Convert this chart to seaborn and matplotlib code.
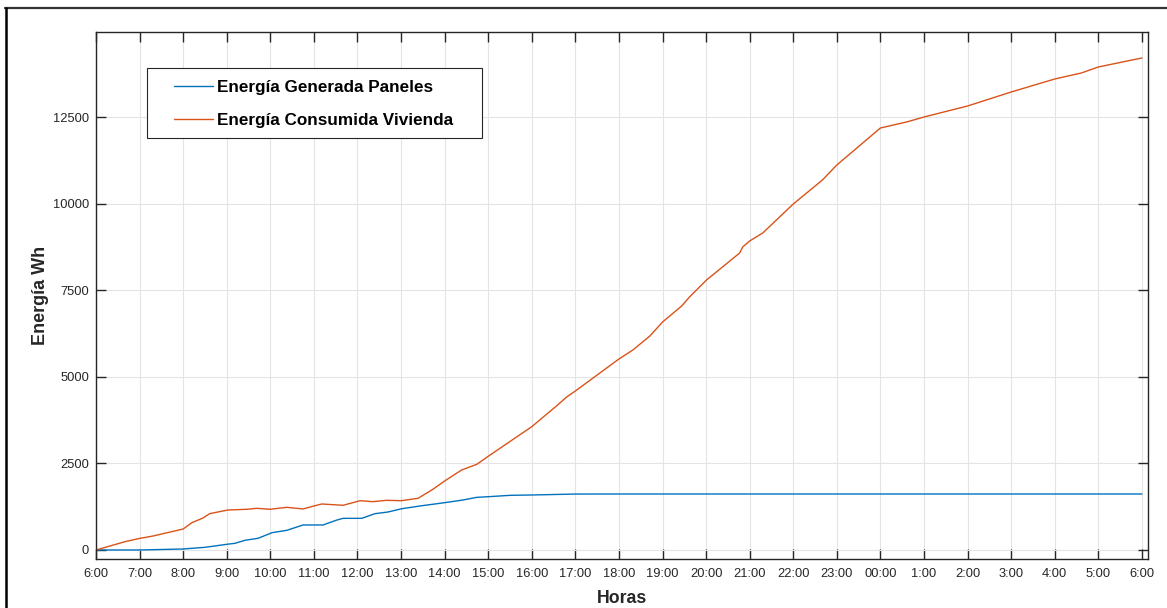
import matplotlib
matplotlib.use("Agg")
import matplotlib.pyplot as plt
from matplotlib.patches import Rectangle
from matplotlib.lines import Line2D
import seaborn as sns
import pandas as pd

# ---- data (hours elapsed since 6:00) ----
gen_hours = [0, 1.0, 2.0, 2.5, 3.0, 3.19, 3.42, 3.72, 4.04, 4.38, 4.75, 5.21, 5.53,
             5.67, 6.1, 6.4, 6.7, 7.02, 7.43, 8.0, 8.42, 8.74, 9.01, 9.5, 10.0,
             11.0, 12.0, 24.0]
gen_wh = [0, 0, 29, 77, 164, 193, 280, 338, 500, 568, 722, 722, 866,
          914, 914, 1048, 1097, 1192, 1270, 1366, 1443, 1520, 1539, 1578, 1588,
          1615, 1617, 1617]

cons_hours = [0, 0.665, 1.01, 1.31, 2.0, 2.2, 2.45, 2.61, 3.03, 3.46, 3.69, 3.99,
              4.38, 4.75, 5.0, 5.18, 5.67, 6.06, 6.35, 6.67, 7.0, 7.39, 7.73, 8.0,
              8.39, 8.74, 9.01, 10.0, 10.62, 10.8, 11.0, 12.0, 12.32, 12.71, 13.0,
              13.44, 13.62, 14.01, 14.77, 14.84, 15.0, 15.3, 16.0, 16.67, 17.0,
              18.0, 18.6, 19.0, 20.0, 21.0, 22.0, 22.61, 23.0, 24.0]
cons_wh = [0, 240, 337, 404, 606, 789, 920, 1050, 1155, 1175, 1203, 1175,
           1232, 1184, 1270, 1328, 1290, 1423, 1395, 1434, 1423, 1492, 1752, 1992,
           2310, 2474, 2714, 3560, 4215, 4417, 4590, 5514, 5774, 6178, 6582,
           7044, 7304, 7795, 8574, 8748, 8921, 9152, 9989, 10682, 11115,
           12183, 12356, 12500, 12818, 13222, 13597, 13770, 13944, 14204]

series_names = ["Energía Generada Paneles", "Energía Consumida Vivienda"]
series_colors = ["#0072BD", "#D95319"]

x_ticks = list(range(0, 25))
x_tick_labels = ["6:00", "7:00", "8:00", "9:00", "10:00", "11:00", "12:00", "13:00",
                 "14:00", "15:00", "16:00", "17:00", "18:00", "19:00", "20:00",
                 "21:00", "22:00", "23:00", "00:00", "1:00", "2:00", "3:00",
                 "4:00", "5:00", "6:00"]
y_ticks = [0, 2500, 5000, 7500, 10000, 12500]

df = pd.concat([
    pd.DataFrame({"h": gen_hours, "wh": gen_wh, "serie": series_names[0]}),
    pd.DataFrame({"h": cons_hours, "wh": cons_wh, "serie": series_names[1]}),
], ignore_index=True)

sns.set_style("white")
plt.rcParams["font.family"] = ["Liberation Sans", "DejaVu Sans"]

W, H = 1167, 608
fig = plt.figure(figsize=(W / 100, H / 100), dpi=100)
ax = fig.add_axes([96 / W, 1 - 559 / H, (1148 - 96) / W, (559 - 32) / H])

sns.lineplot(data=df, x="h", y="wh", hue="serie", palette=dict(zip(series_names, series_colors)),
             estimator=None, sort=True, linewidth=1.0, ax=ax, legend=False)

dark = "#262626"
ax.set_xlim(0, 24.14)
ax.set_ylim(-260, 14954)
ax.set_xticks(x_ticks)
ax.set_xticklabels(x_tick_labels)
ax.set_yticks(y_ticks)
ax.set_yticklabels([str(v) for v in y_ticks])
ax.grid(True, color="#e4e4e4", linewidth=0.8)
ax.set_axisbelow(True)
for s in ax.spines.values():
    s.set_visible(True)
    s.set_color(dark)
    s.set_linewidth(1.0)
ax.tick_params(direction="in", length=7.5, width=1.0, color=dark, labelcolor=dark,
               labelsize=9.3, top=True, right=True, bottom=True, left=True)
ax.tick_params(axis="x", pad=6.5)
ax.tick_params(axis="y", pad=5)
ax.set_xlabel("Horas", fontsize=12.7, fontweight="bold", color=dark, labelpad=7)
ax.set_ylabel("Energía Wh", fontsize=13, fontweight="bold", color=dark, labelpad=3)

# legend box
ax.add_patch(Rectangle((147 / W, 1 - 138 / H), (482 - 147) / W, (138 - 68) / H,
                       transform=fig.transFigure, facecolor="white", edgecolor=dark,
                       linewidth=0.8, zorder=4, clip_on=False))
handles = [Line2D([], [], color=c, linewidth=1.0) for c in series_colors]
leg = ax.legend(handles, series_names, loc="upper left", frameon=False,
                bbox_to_anchor=(174 / W, 1 - 80 / H), bbox_transform=fig.transFigure,
                borderpad=0, borderaxespad=0, handlelength=2.28, handletextpad=0.25,
                labelspacing=1.05, prop={"size": 12.3, "weight": "bold"})
for t in leg.get_texts():
    t.set_color("black")

# figure border lines
fig.add_artist(Line2D([5 / W, 1], [1 - 8 / H, 1 - 8 / H], transform=fig.transFigure,
                      color="#333333", linewidth=1.6))
fig.add_artist(Line2D([6 / W, 6 / W], [0, 1 - 8 / H], transform=fig.transFigure,
                      color="black", linewidth=1.8))

fig.savefig("out.png", dpi=100)
